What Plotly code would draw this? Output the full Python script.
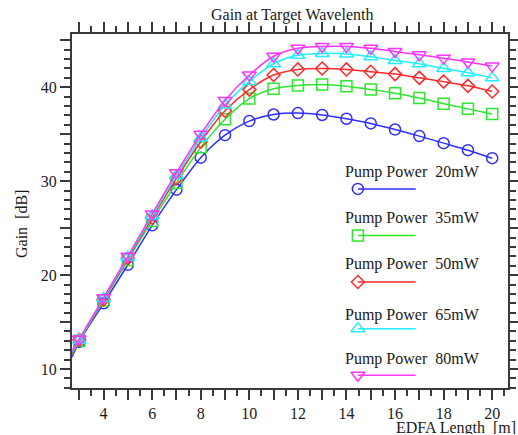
import plotly.graph_objects as go

# ---- data ----
lengths = [3, 4, 5, 6, 7, 8, 9, 10, 11, 12, 13, 14, 15, 16, 17, 18, 19, 20]
gain_20mw = [12.9, 17.0, 21.1, 25.3, 29.1, 32.5, 34.9, 36.4, 37.1, 37.25, 37.05, 36.65, 36.15, 35.5, 34.8, 34.05, 33.3, 32.45]
gain_35mw = [13.0, 17.3, 21.6, 25.8, 29.8, 33.6, 36.6, 38.8, 39.85, 40.2, 40.3, 40.1, 39.75, 39.35, 38.85, 38.25, 37.7, 37.15]
gain_50mw = [13.1, 17.4, 21.8, 26.1, 30.3, 34.2, 37.5, 39.75, 41.3, 41.9, 42.0, 41.9, 41.65, 41.4, 41.0, 40.6, 40.15, 39.55]
gain_65mw = [13.1, 17.5, 21.9, 26.3, 30.6, 34.6, 38.1, 40.6, 42.5, 43.4, 43.6, 43.55, 43.25, 42.85, 42.5, 42.0, 41.55, 41.0]
gain_80mw = [13.2, 17.6, 22.0, 26.5, 30.9, 35.0, 38.6, 41.3, 43.3, 44.15, 44.35, 44.35, 44.15, 43.8, 43.45, 43.1, 42.7, 42.25]
# where each curve leaves the left frame edge
edge_length = 2.7
edge_gain = [11.3, 11.6, 11.7, 11.8, 11.9]

series_names = ["20mW", "35mW", "50mW", "65mW", "80mW"]
series_values = [gain_20mw, gain_35mw, gain_50mw, gain_65mw, gain_80mw]

x_tick_vals = list(range(3, 21))
x_tick_text = [str(v) if v % 2 == 0 else "" for v in x_tick_vals]
y_tick_vals = [10, 15, 20, 25, 30, 35, 40, 45]
y_tick_text = ["10", "", "20", "", "30", "", "40", ""]

# ---- styles ----
colors = ["#2f2fff", "#2ee62e", "#ff2a2a", "#22eeff", "#ff33ff"]
symbols = ["circle-open", "square-open", "diamond-open", "triangle-up-open", "triangle-down-open"]
sizes = [11, 11, 10, 12, 12]
FONT = "Liberation Serif, Times New Roman, serif"
FS = 16
AX = "#3a3a3a"
TXT = "#1a1a1a"

# legend-block placement (data units)
leg_text_x = 13.85
leg_text_y = [31.0, 26.05, 21.15, 15.75, 11.1]
leg_line_y = [29.18, 24.21, 19.26, 14.3, 9.34]
leg_line_x0, leg_line_x1 = 14.47, 16.85

W, H = 518, 435
L, R, T, B = 72, 10, 34, 47
pw, ph = W - L - R, H - T - B


def px_to_paper(px, py):
    return (px - L) / pw, (H - B - py) / ph


fig = go.Figure()
for i, (name, vals) in enumerate(zip(series_names, series_values)):
    fig.add_trace(go.Scatter(
        x=[edge_length] + lengths, y=[edge_gain[i]] + vals,
        mode="lines", line=dict(color=colors[i], width=1.5, shape="spline", smoothing=0.8),
        showlegend=False, hoverinfo="skip"))
    fig.add_trace(go.Scatter(
        x=lengths, y=vals, mode="markers", name=name,
        marker=dict(symbol=symbols[i], size=sizes[i], color=colors[i], line=dict(color=colors[i], width=1.5)),
        showlegend=False, cliponaxis=False))
    # custom legend sample
    fig.add_trace(go.Scatter(
        x=[leg_line_x0, leg_line_x1], y=[leg_line_y[i], leg_line_y[i]],
        mode="lines", line=dict(color=colors[i], width=1.5), showlegend=False, hoverinfo="skip"))
    fig.add_trace(go.Scatter(
        x=[leg_line_x0], y=[leg_line_y[i]], mode="markers",
        marker=dict(symbol=symbols[i], size=sizes[i], color=colors[i], line=dict(color=colors[i], width=1.5)),
        showlegend=False, hoverinfo="skip", cliponaxis=False))
    fig.add_annotation(x=leg_text_x, y=leg_text_y[i], xref="x", yref="y",
                       text="Pump Power\u00a0\u00a0" + name, showarrow=False,
                       xanchor="left", yanchor="middle",
                       font=dict(family=FONT, size=FS, color=TXT))

tx, ty = px_to_paper(292, 15)
fig.add_annotation(x=tx, y=ty, xref="paper", yref="paper",
                   text="Gain at Target Wavelenth", showarrow=False,
                   xanchor="center", yanchor="middle",
                   font=dict(family=FONT, size=FS, color=TXT))
ax_x, ax_y = px_to_paper(518, 427)
fig.add_annotation(x=ax_x, y=ax_y, xref="paper", yref="paper", text="EDFA Length\u00a0\u00a0[m]",
                   showarrow=False, xanchor="right", yanchor="middle", height=13,
                   font=dict(family=FONT, size=FS, color=TXT))
ay_x, ay_y = px_to_paper(21, 224)
fig.add_annotation(x=ay_x, y=ay_y, xref="paper", yref="paper", text="Gain\u00a0\u00a0[dB]",
                   showarrow=False, textangle=-90, xanchor="center", yanchor="middle",
                   font=dict(family=FONT, size=FS, color=TXT))

fig.update_layout(
    width=W, height=H,
    margin=dict(l=L, r=R, t=T, b=B, autoexpand=False),
    paper_bgcolor="white", plot_bgcolor="white",
    font=dict(family=FONT, size=FS, color=TXT),
    showlegend=False,
)
fig.update_xaxes(
    range=[2.7, 20.65], tickmode="array", tickvals=x_tick_vals, ticktext=x_tick_text,
    ticks="outside", ticklen=10, tickwidth=1.5, tickcolor=AX,
    minor=dict(dtick=0.5, tick0=0, ticks="outside", ticklen=6, tickwidth=1.5, tickcolor=AX, showgrid=False),
    showline=True, linecolor=AX, linewidth=2, mirror="ticks",
    showgrid=False, zeroline=False, tickfont=dict(family=FONT, size=FS, color=TXT),
)
fig.update_yaxes(
    range=[7.98, 45.67], tickmode="array", tickvals=y_tick_vals, ticktext=y_tick_text,
    ticks="outside", ticklen=10, tickwidth=1.5, tickcolor=AX,
    minor=dict(dtick=1, tick0=0, ticks="outside", ticklen=6, tickwidth=1.5, tickcolor=AX, showgrid=False),
    showline=True, linecolor=AX, linewidth=2, mirror="ticks",
    showgrid=False, zeroline=False, tickfont=dict(family=FONT, size=FS, color=TXT),
)

fig.write_html("out.html", config={"displayModeBar": False},
               post_script="document.body.style.margin='0';")
